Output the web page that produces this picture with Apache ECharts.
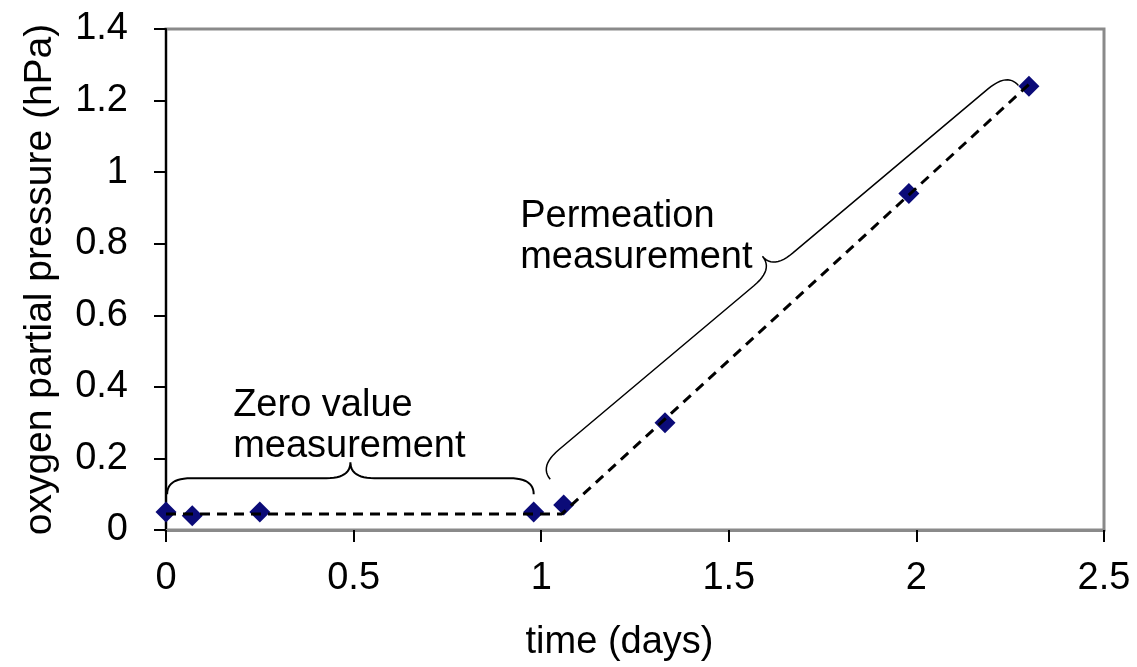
<!DOCTYPE html>
<html>
<head>
<meta charset="utf-8">
<script src="https://cdn.jsdelivr.net/npm/echarts@6/dist/echarts.min.js"></script>
<style>
html, body { margin: 0; padding: 0; background: #fff; }
#main { width: 1137px; height: 667px; }
</style>
</head>
<body>
<div id="main"></div>
<script>
// measured points
var timeDays = [0, 0.07, 0.25, 0.98, 1.06, 1.33, 1.98, 2.30];
var pressure = [0.05, 0.04, 0.05, 0.05, 0.07, 0.30, 0.94, 1.24];
// dashed trend (zero level then permeation slope)
var trendTime = [0, 1.055, 2.30];
var trendPressure = [0.045, 0.045, 1.245];
// axis ticks
var xTicks = [0, 0.5, 1, 1.5, 2, 2.5];
var yTicks = [0, 0.2, 0.4, 0.6, 0.8, 1, 1.2, 1.4];

var FONT = '"Liberation Sans", Arial, sans-serif';
var FS = 38;

var myChart = echarts.init(document.getElementById('main'));

var pts = timeDays.map(function (t, i) { return [t, pressure[i]]; });
var trend = trendTime.map(function (t, i) { return [t, trendPressure[i]]; });

var option = {
    animation: false,
    backgroundColor: '#fff',
    grid: {
        left: 166,
        right: 33,
        top: 29,
        bottom: 136,
        show: true,
        borderColor: '#8a8a8a',
        borderWidth: 3,
        backgroundColor: 'transparent'
    },
    xAxis: {
        type: 'value',
        min: xTicks[0],
        max: xTicks[xTicks.length - 1],
        interval: 0.5,
        name: 'time (days)',
        nameLocation: 'middle',
        nameGap: 94,
        nameTextStyle: { fontFamily: FONT, fontSize: FS, color: '#000', padding: [0, 31, 0, 0] },
        axisLine: { show: true, lineStyle: { color: '#8a8a8a', width: 3 } },
        axisTick: { show: true, inside: false, length: 12, lineStyle: { color: '#000', width: 2 } },
        axisLabel: { margin: 30, fontFamily: FONT, fontSize: FS, color: '#000' },
        splitLine: { show: false }
    },
    yAxis: {
        type: 'value',
        min: yTicks[0],
        max: yTicks[yTicks.length - 1],
        interval: 0.2,
        name: 'oxygen partial pressure (hPa)',
        nameLocation: 'middle',
        nameGap: 106,
        nameTextStyle: { fontFamily: FONT, fontSize: 39, color: '#000' },
        axisLine: { show: true, lineStyle: { color: '#000', width: 2 } },
        axisTick: { show: true, inside: false, length: 12, lineStyle: { color: '#000', width: 2 } },
        axisLabel: {
            margin: 38, fontFamily: FONT, fontSize: FS, color: '#000',
            formatter: function (v) { return String(Math.round(v * 10) / 10); }
        },
        splitLine: { show: false }
    },
    series: [
        {
            name: 'measurement',
            type: 'scatter',
            data: pts,
            symbol: 'diamond',
            symbolSize: 21,
            itemStyle: { color: '#0b0b78', opacity: 1 },
            z: 2
        },
        {
            name: 'trend',
            type: 'line',
            data: trend,
            symbol: 'none',
            lineStyle: { color: '#000', width: 3, type: [10, 7] },
            z: 3
        }
    ]
};
myChart.setOption(option);

// curly brace between two data points, tip pushed out by depth px
function bracePoints(a, b, depth) {
    var p1 = myChart.convertToPixel({ gridIndex: 0 }, a);
    var p2 = myChart.convertToPixel({ gridIndex: 0 }, b);
    var dx = p2[0] - p1[0], dy = p2[1] - p1[1];
    var L = Math.sqrt(dx * dx + dy * dy);
    var ux = dx / L, uy = dy / L;
    var nx = uy, ny = -ux;
    var w = depth / 2, r = w * 1.5, h = L / 2;
    function pt(s, n) {
        return [p1[0] + ux * s + nx * n, p1[1] + uy * s + ny * n];
    }
    var out = [];
    function quad(s0, c, e) {
        for (var k = 0; k <= 12; k++) {
            var t = k / 12, m = 1 - t;
            out.push([
                m * m * s0[0] + 2 * m * t * c[0] + t * t * e[0],
                m * m * s0[1] + 2 * m * t * c[1] + t * t * e[1]
            ]);
        }
    }
    quad(pt(0, 0), pt(0, w), pt(r, w));
    quad(pt(h - r, w), pt(h, w), pt(h, 2 * w));
    quad(pt(h, 2 * w), pt(h, w), pt(h + r, w));
    quad(pt(L - r, w), pt(L, w), pt(L, 0));
    return out;
}

function textAt(x, y, str) {
    var p = myChart.convertToPixel({ gridIndex: 0 }, [x, y]);
    return {
        type: 'text',
        x: p[0], y: p[1],
        style: {
            text: str,
            font: FS + 'px ' + FONT,
            fill: '#000',
            lineHeight: 41,
            verticalAlign: 'middle',
            align: 'left'
        },
        z: 10
    };
}

myChart.setOption({
    graphic: [
        {
            type: 'polyline',
            shape: { points: bracePoints([0.003, 0.10], [0.98, 0.10], 32) },
            style: { fill: null, stroke: '#000', lineWidth: 2 },
            z: 10
        },
        {
            type: 'polyline',
            shape: { points: bracePoints([1.024, 0.142], [2.272, 1.242], 34) },
            style: { fill: null, stroke: '#000', lineWidth: 1.5 },
            z: 10
        },
        textAt(0.179, 0.29, 'Zero value\nmeasurement'),
        textAt(0.944, 0.818, 'Permeation\nmeasurement')
    ]
});
</script>
</body>
</html>
